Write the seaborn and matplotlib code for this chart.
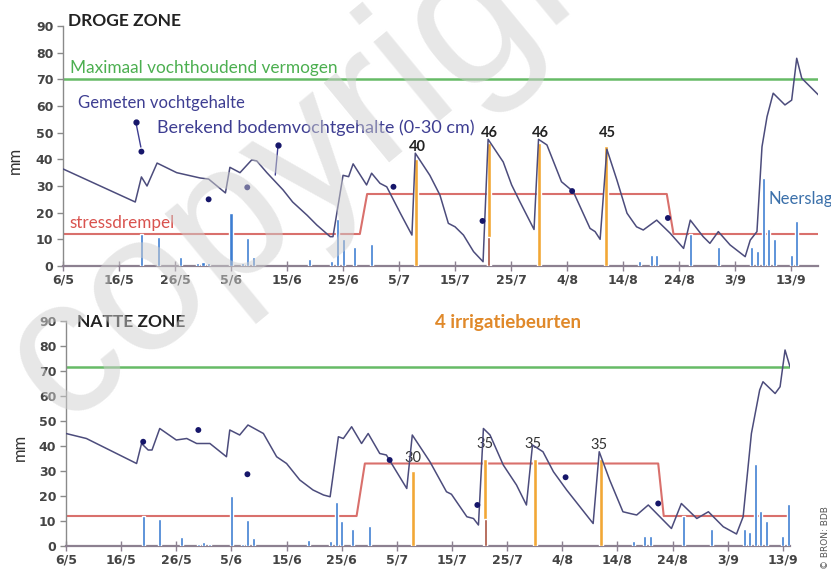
import matplotlib
matplotlib.use("Agg")
import matplotlib.pyplot as plt
import numpy as np
import pandas as pd
import seaborn as sns

# ---------------- data ----------------
tick_days = [0, 10, 20, 30, 40, 50, 60, 70, 80, 90, 100, 110, 120, 130]
tick_labels = ["6/5", "16/5", "26/5", "5/6", "15/6", "25/6", "5/7", "15/7",
               "25/7", "4/8", "14/8", "24/8", "3/9", "13/9"]

# calculated soil moisture (0-30 cm), dry zone
dry_days = [0, 12.9, 14, 15, 16.8, 20.3, 24.5, 26, 29, 29.8, 31.6, 33.7, 34.6, 36.4,
            39.3, 41, 43.6, 45.3, 47.7, 48.2, 50, 51, 51.8, 54.2, 55.1, 56.6, 57.8,
            60.2, 62.3, 62.9, 65.5, 67.3, 68.8, 70, 71.5, 73.3, 75, 75.9, 78.6, 80.1,
            81.6, 84.1, 84.9, 86.4, 89, 91.1, 94.1, 95, 95.9, 97.1, 98.9, 100.7, 102.4,
            103.6, 106, 108.4, 110.8, 112, 114.3, 115.5, 117, 119.1, 121.8, 122.7,
            123.9, 124.8, 125.7, 126.8, 128.9, 130.1, 131, 131.9, 134.9]
dry_vals = [36.4, 24, 33.4, 30, 38.6, 35, 33, 32.6, 27.4, 37, 35, 39.8, 39.4, 35,
            28.5, 24, 19, 15.4, 11, 11, 34, 33.5, 38.3, 30.4, 34.8, 31, 29.7,
            19.9, 11.6, 42.3, 34, 26.6, 16, 14.7, 11.6, 5.4, 1.6, 47.5, 39, 30.4,
            24, 13.7, 47.5, 45.4, 31.6, 27.9, 14.1, 12.9, 10, 43.8, 32.2, 19.8, 14.7,
            13.5, 17.2, 12.3, 6.6, 17.2, 11, 8.5, 12.9, 7.9, 3.5, 9.7,
            12.9, 44.7, 56, 64.8, 60.4, 62.2, 77.9, 70.4, 64.1]

# calculated soil moisture, wet zone
wet_days = [0, 3.7, 12.8, 13.7, 14.9, 15.6, 17, 20, 21.9, 23.7, 26.1, 29.1, 29.7, 31.5,
            33, 35.8, 38.2, 40, 42.4, 44.8, 46.7, 47.9, 49.4, 50.3, 51.8, 53.6, 54.8,
            56.9, 58.1, 61.8, 62.8, 66, 69, 69.9, 72.7, 73.9, 74.8, 75.7, 76.9, 79.3,
            81.7, 83.5, 84.6, 86.5, 88.4, 90.8, 93.2, 95.6, 96.7, 98.6, 101, 102.3,
            103.5, 105.6, 107.7, 109.8, 111.6, 114.4, 116.5, 119.2, 121.6, 122.8,
            124.3, 125.8, 126.4, 128.6, 129.5, 130.4, 131.3]
wet_vals = [45, 43, 33, 41, 38.4, 38.4, 47, 42.4, 43, 41, 41, 35.7, 46.4, 44.4,
            48.4, 45, 35.7, 33, 26.4, 22.4, 20.4, 19.7, 43.7, 43, 47.7, 41, 45,
            37, 36.4, 23, 44.4, 33.7, 21.7, 20.7, 11.7, 11, 8.4, 47, 44.4, 32.4,
            24.4, 16.4, 40.4, 37.7, 29.7, 22.4, 15.7, 9, 37.7, 26.4, 13.7, 13,
            12.4, 16.4, 11.7, 7, 17, 11, 13.7, 7.7, 4.8, 11.7,
            45, 62.4, 65.7, 61, 63.7, 78.4, 71.7]

# measured moisture
dry_meas_days = [14, 26, 32.9, 59, 74.9, 90.9, 108]
dry_meas_vals = [42.9, 25, 29.5, 29.7, 16.9, 28.1, 18]
wet_meas_days = [14, 24, 32.9, 58.7, 74.6, 90.6, 107.4]
wet_meas_vals = [41.7, 46.4, 28.7, 34.4, 16.4, 27.5, 17]

# stress threshold
dry_stress_days = [0, 53, 54.3, 107.8, 109, 134.8]
dry_stress_vals = [12, 12, 27, 27, 12, 12]
wet_stress_days = [0, 52.7, 54.2, 107.4, 108.4, 131.3]
wet_stress_vals = [12, 12, 33, 33, 12, 12]

# max water holding capacity
dry_max = 70
wet_max = 71.5

# precipitation (same for both zones)
rain_days = [14, 17, 21, 24, 25, 26, 30, 32, 33, 34, 44, 48, 49, 50, 52, 55,
             103, 105, 106, 112, 117, 123, 124, 125, 126, 127, 130, 131]
rain_vals = [12, 11, 3.5, 1, 1.5, 1, 20, 1, 10.5, 3.3, 2.5, 2, 17.5, 10.2, 7, 8.2,
             2, 4, 4, 12, 7, 7, 5.5, 33, 14, 10, 4.2, 17]
rain_hidden_day = [76]
rain_hidden_val = [11]

# irrigation
irr_days = [63, 76, 85, 97]
dry_irr = [40, 46, 46, 45]
wet_irr = [30, 35, 35, 35]

# ---------------- style ----------------
sns.set_theme(style="white")
plt.rcParams['font.family'] = ['Lato', 'DejaVu Sans']

C_LINE = "#4c4c7c"
C_DOT = "#16166a"
C_GREEN = "#66bb66"
C_RED = "#d9706c"
C_BLUE = "#3c7dd2"
C_ORANGE = "#f2a735"
C_AXIS = "#8c8090"
C_NAVY_TXT = "#3e3e92"

fig = plt.figure(figsize=(8.31, 5.70), dpi=100)
ax1 = fig.add_axes([63 / 831, (570 - 266) / 570, (818 - 63) / 831, 240 / 570])
ax2 = fig.add_axes([66 / 831, 24 / 570, (790 - 66) / 831, 225 / 570])


def draw_panel(ax, xmax, line_d, line_v, md, mv, sd, sv, maxv, irr):
    ax.set_xlim(0, xmax)
    ax.set_ylim(0, 90)
    ax.plot([0, xmax], [maxv, maxv], color=C_GREEN, lw=1.8, zorder=2)
    ax.plot(sd, sv, color=C_RED, lw=1.5, zorder=2)
    ax.bar(rain_days, rain_vals, width=0.55, color=C_BLUE, zorder=3)
    ax.bar(irr_days, irr, width=0.7, color=C_ORANGE, zorder=3)
    ax.bar(rain_hidden_day, rain_hidden_val, width=0.55, color="#a8503e", zorder=3.5)
    sns.lineplot(x=line_d, y=line_v, ax=ax, color=C_LINE, lw=1.1, estimator=None,
                 sort=False, zorder=4)
    sns.scatterplot(x=md, y=mv, ax=ax, color=C_DOT, s=18, edgecolor="none", zorder=5)
    for s in ["top", "right"]:
        ax.spines[s].set_visible(False)
    ax.spines["left"].set_color("#8a8a8a")
    ax.spines["left"].set_linewidth(1.0)
    ax.spines["bottom"].set_color(C_AXIS)
    ax.spines["bottom"].set_linewidth(1.6)
    ax.set_yticks(range(0, 91, 10))
    ax.set_yticklabels([str(v) for v in range(0, 91, 10)], fontsize=9,
                       fontweight="bold", color="#444444", family="DejaVu Sans")
    ax.set_xticks(tick_days)
    ax.set_xticklabels(tick_labels, fontsize=9, fontweight="bold", color="#444444",
                       family="DejaVu Sans")
    ax.tick_params(axis="y", direction="out", length=4, width=1, color="#8a8a8a",
                   left=True, pad=3)
    ax.tick_params(axis="x", direction="inout", length=7, width=1, color=C_AXIS,
                   bottom=True, pad=2)
    ax.set_xlabel("")
    ax.set_ylabel("")
    ax.text(-0.064, 0.44, "mm", transform=ax.transAxes, rotation=90, ha="center",
            va="center", fontsize=12, color="#333333")


draw_panel(ax1, 134.8, dry_days, dry_vals, dry_meas_days, dry_meas_vals,
           dry_stress_days, dry_stress_vals, dry_max, dry_irr)
draw_panel(ax2, 131.3, wet_days, wet_vals, wet_meas_days, wet_meas_vals,
           wet_stress_days, wet_stress_vals, wet_max, wet_irr)

# --------- annotations top ---------
ax1.text(0.9, 92, "DROGE ZONE", fontsize=12.5, fontweight="bold", color="#222222",
         va="center", ha="left", clip_on=False)
ax1.text(1.2, 74.3, "Maximaal vochthoudend vermogen", fontsize=12.4, color="#4caf50",
         va="center", ha="left")
ax1.text(2.7, 61, "Gemeten vochtgehalte", fontsize=12, color=C_NAVY_TXT,
         va="center", ha="left")
ax1.text(16.8, 51.7, "Berekend bodemvochtgehalte (0-30 cm)", fontsize=13,
         color=C_NAVY_TXT, va="center", ha="left")
ax1.text(1.2, 16.1, "stressdrempel", fontsize=12.3, color="#d9534f", va="center",
         ha="left")
ax1.text(125.9, 25, "Neerslag", fontsize=12, color="#3b70aa", va="center",
         ha="left", clip_on=False)
ax1.plot([13, 13.9], [54, 44.6], color=C_NAVY_TXT, lw=1)
ax1.plot([13], [54], marker="o", ms=3.5, color=C_DOT)
ax1.plot([38.4, 37.9], [45.4, 34.1], color=C_NAVY_TXT, lw=1)
ax1.plot([38.4], [45.4], marker="o", ms=3.5, color=C_DOT)
for d, v, ty in zip(irr_days, dry_irr, [44.7, 49.7, 49.7, 49.9]):
    ax1.text(d + 0.2, ty, str(v), fontsize=10.5, fontweight="bold", color="#222222",
             ha="center", va="center")

# --------- annotations bottom ---------
ax2.text(2.0, 89.6, "NATTE ZONE", fontsize=12.5, fontweight="bold", color="#222222",
         va="center", ha="left", clip_on=False)
ax2.text(66.9, 89.2, "4 irrigatiebeurten", fontsize=13.5, fontweight="bold",
         color="#e0892a", va="center", ha="left", clip_on=False)
for d, v, tx, ty in zip(irr_days, wet_irr, [63, 76, 84.7, 96.7], [35.3, 40.7, 40.7, 40.4]):
    ax2.text(tx, ty, str(v), fontsize=10.5, color="#333333", ha="center", va="center")

fig.text(826 / 831, 1 - 538 / 570, "© BRON: BDB", rotation=90, fontsize=6.5,
         color="#555555", ha="center", va="center", family="DejaVu Sans")

# watermark
fig.text(334 / 831, 1 - 136 / 570, "copyright", rotation=39.5, rotation_mode="anchor",
         fontsize=140, color="#cfcfcf", alpha=0.5, ha="center", va="center",
         family="Liberation Sans", zorder=20)

fig.savefig("out.png", dpi=100)
